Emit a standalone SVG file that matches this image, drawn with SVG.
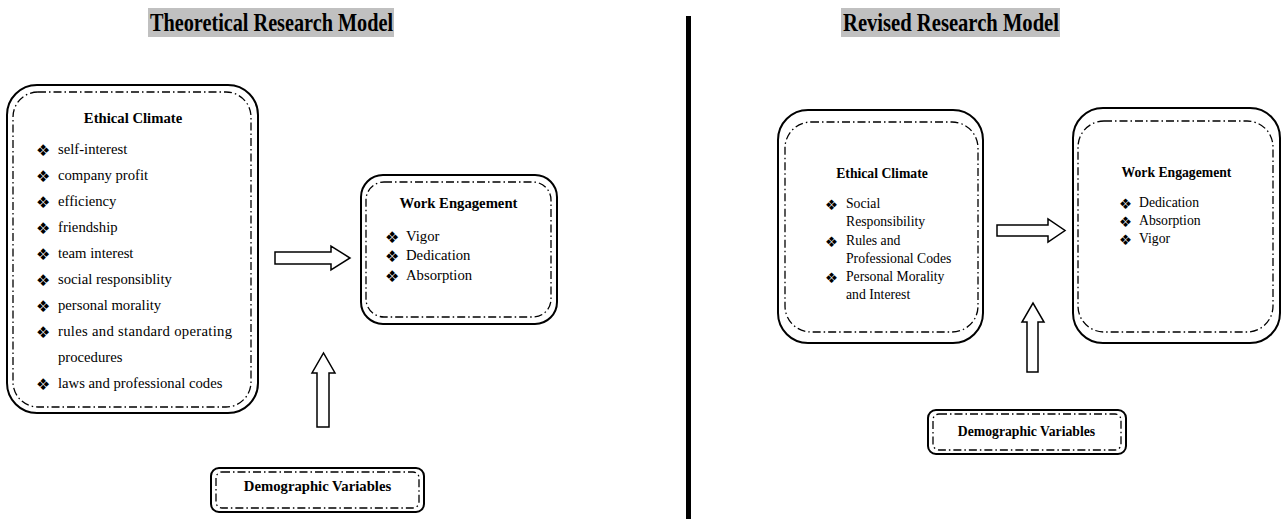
<svg xmlns="http://www.w3.org/2000/svg" width="1287" height="519" viewBox="0 0 1287 519">
  <style>
    .outer { fill: #ffffff; stroke: #000000; stroke-width: 2; }
    .inner { fill: none; stroke: #000000; stroke-width: 1.3; stroke-dasharray: 8 3 1.5 3; }
    .title { font-family: "Liberation Serif", "Times New Roman", serif; font-weight: bold; font-size: 26px; fill: #000000; }
    .band { fill: #c0c0c0; }
    .head { font-family: "Liberation Serif", "Times New Roman", serif; font-weight: bold; font-size: 14.7px; fill: #000000; }
    .item { font-family: "Liberation Serif", "Times New Roman", serif; font-size: 14.7px; fill: #000000; }
    .headS { font-family: "Liberation Serif", "Times New Roman", serif; font-weight: bold; font-size: 13.7px; fill: #000000; }
    .itemS { font-family: "Liberation Serif", "Times New Roman", serif; font-size: 13.7px; fill: #000000; }
    .bul { font-family: "DejaVu Sans", sans-serif; font-size: 16px; fill: #000000; }
    .bulS { font-family: "DejaVu Sans", sans-serif; font-size: 14.5px; fill: #000000; }
    .arrow { fill: #ffffff; stroke: #000000; stroke-width: 1.5; stroke-linejoin: miter; }
  </style>

  <!-- headings -->
  <g id="heading-left">
    <rect class="band" x="148" y="8" width="246" height="29"/>
    <text class="title" x="150" y="31" textLength="243" lengthAdjust="spacingAndGlyphs">Theoretical Research Model</text>
  </g>
  <g id="heading-right">
    <rect class="band" x="841" y="8" width="219" height="29"/>
    <text class="title" x="843" y="31" textLength="216" lengthAdjust="spacingAndGlyphs">Revised Research Model</text>
  </g>

  <!-- divider between the two models -->
  <rect id="divider" x="686" y="16" width="5" height="503" fill="#000000"/>

  <!-- theoretical model -->
  <g id="ethical-climate-1">
    <rect class="outer" x="7" y="85" width="251" height="328" rx="30" ry="30"/>
    <rect class="inner" x="13" y="92" width="238" height="315" rx="25" ry="25"/>
    <text class="head" x="133" y="123" text-anchor="middle">Ethical Climate</text>
    <g class="bul">
      <text x="36" y="156">❖</text>
      <text x="36" y="182">❖</text>
      <text x="36" y="208">❖</text>
      <text x="36" y="234">❖</text>
      <text x="36" y="260">❖</text>
      <text x="36" y="286">❖</text>
      <text x="36" y="312">❖</text>
      <text x="36" y="338">❖</text>
      <text x="36" y="390">❖</text>
    </g>
    <g class="item">
      <text x="58" y="154">self-interest</text>
      <text x="58" y="180">company profit</text>
      <text x="58" y="206">efficiency</text>
      <text x="58" y="232">friendship</text>
      <text x="58" y="258">team interest</text>
      <text x="58" y="284">social responsiblity</text>
      <text x="58" y="310">personal morality</text>
      <text x="58" y="336" textLength="174">rules and standard operating</text>
      <text x="58" y="362">procedures</text>
      <text x="58" y="388">laws and professional codes</text>
    </g>
  </g>

  <g id="work-engagement-1">
    <rect class="outer" x="361" y="175" width="196" height="149" rx="22" ry="22"/>
    <rect class="inner" x="366" y="182" width="185" height="135" rx="18" ry="18"/>
    <text class="head" x="458.5" y="208" text-anchor="middle">Work Engagement</text>
    <g class="bul">
      <text x="385" y="243">❖</text>
      <text x="385" y="262">❖</text>
      <text x="385" y="282">❖</text>
    </g>
    <g class="item">
      <text x="406" y="241">Vigor</text>
      <text x="406" y="260">Dedication</text>
      <text x="406" y="280">Absorption</text>
    </g>
  </g>

  <g id="demographics-1">
    <rect class="outer" x="211" y="468" width="213" height="44" rx="8" ry="8"/>
    <rect class="inner" x="216" y="472" width="203" height="36" rx="6" ry="6"/>
    <text class="head" x="317.5" y="491" text-anchor="middle">Demographic Variables</text>
  </g>

  <!-- revised model -->
  <g id="ethical-climate-2">
    <rect class="outer" x="778" y="110" width="205" height="233" rx="30" ry="30"/>
    <rect class="inner" x="785" y="122" width="193" height="210" rx="26" ry="26"/>
    <text class="headS" x="882" y="178" text-anchor="middle">Ethical Climate</text>
    <g class="bulS">
      <text x="825" y="210">❖</text>
      <text x="825" y="247">❖</text>
      <text x="825" y="283">❖</text>
    </g>
    <g class="itemS">
      <text x="846" y="208">Social</text>
      <text x="846" y="226">Responsibility</text>
      <text x="846" y="245">Rules and</text>
      <text x="846" y="263">Professional Codes</text>
      <text x="846" y="281">Personal Morality</text>
      <text x="846" y="299">and Interest</text>
    </g>
  </g>

  <g id="work-engagement-2">
    <rect class="outer" x="1073" y="108" width="207" height="235" rx="30" ry="30"/>
    <rect class="inner" x="1078" y="121" width="195" height="211" rx="26" ry="26"/>
    <text class="headS" x="1176.5" y="177" text-anchor="middle">Work Engagement</text>
    <g class="bulS">
      <text x="1119" y="209">❖</text>
      <text x="1119" y="227">❖</text>
      <text x="1119" y="245">❖</text>
    </g>
    <g class="itemS">
      <text x="1139" y="207">Dedication</text>
      <text x="1139" y="225">Absorption</text>
      <text x="1139" y="243">Vigor</text>
    </g>
  </g>

  <g id="demographics-2">
    <rect class="outer" x="928" y="410" width="198" height="44" rx="8" ry="8"/>
    <rect class="inner" x="933" y="414" width="188" height="36" rx="6" ry="6"/>
    <text class="headS" x="1026.5" y="436" text-anchor="middle">Demographic Variables</text>
  </g>

  <!-- block arrows -->
  <g id="connectors">
    <polygon class="arrow" points="275,252 331,252 331,246 350,258 331,270 331,264 275,264"/>
    <polygon class="arrow" points="317,427 317,373 312,373 323.5,353 335,373 329,373 329,427"/>
    <polygon class="arrow" points="997,225 1048,225 1048,219 1065,230.5 1048,242 1048,236 997,236"/>
    <polygon class="arrow" points="1027,372 1027,322 1022,322 1033,303 1044,322 1038,322 1038,372"/>
  </g>
</svg>
